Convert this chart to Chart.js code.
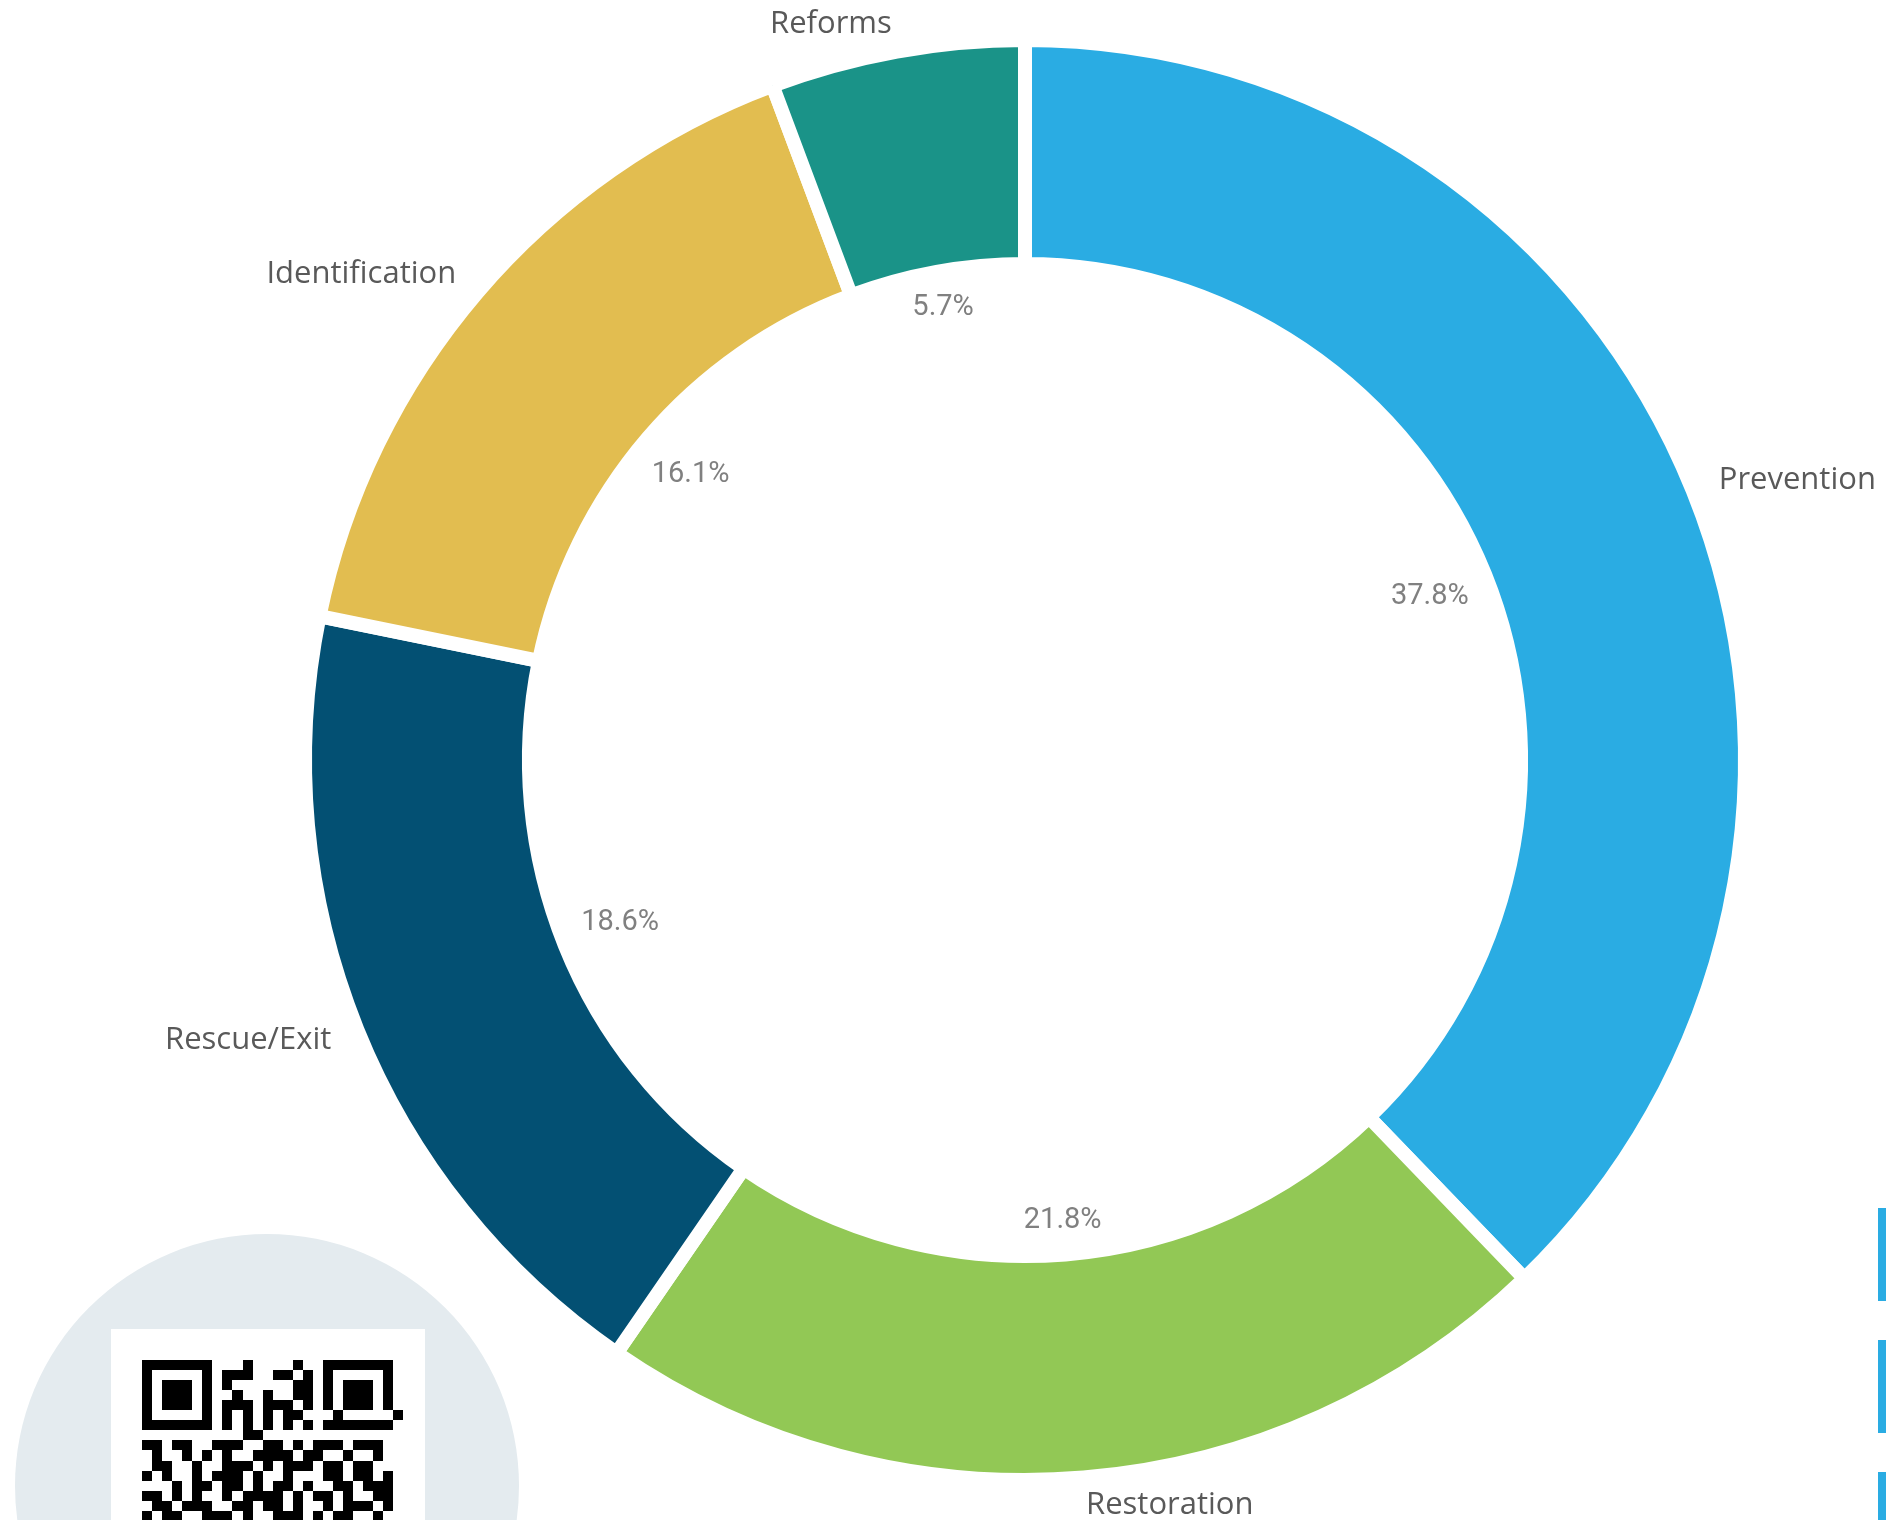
<!DOCTYPE html>
<html>
<head>
<meta charset="utf-8">
<script src="https://cdn.jsdelivr.net/npm/chart.js@4.4.1/dist/chart.umd.min.js"></script>
<style>
  body { margin: 0; background: #fff; }
  canvas { display: block; }
</style>
</head>
<body>
<canvas id="donut" width="1886" height="1520"></canvas>
<script>
const categories = ['Prevention', 'Restoration', 'Rescue/Exit', 'Identification', 'Reforms'];
const shares = [37.8, 21.8, 18.6, 16.1, 5.7];
const sliceColors = ['#2AACE3', '#92C855', '#035073', '#E2BD50', '#1A9388'];

// the qr badge in the bottom-left corner (decoration, first 17 rows visible)
const qrRows = [
  '1111111' + '0001' + '0000' + '1' + '00' + '1111111',
  '1000001' + '0' + '111' + '00' + '11' + '0' + '1' + '0' + '1000001',
  '1011101' + '0' + '1' + '000' + '000' + '11' + '0' + '1011101',
  '1011101' + '0' + '0' + '1' + '0' + '0' + '1' + '00' + '11' + '0' + '1011101',
  '1011101' + '0' + '111' + '0' + '111' + '0' + '1' + '0' + '1011101',
  '1000001' + '0' + '10101011' + '00' + '0' + '1000001',
  '1111111' + '0' + '101010101' + '0' + '1111111',
  '00000000' + '001100000' + '0' + '0000000',
  '1101100111001101011101110',
  '0100101010011110110010010',
  '0110010011101011101101100',
  '1010010111010010001101101',
  '0001011011010110100110111',
  '1101010010111101011010011',
  '0110111001101101001011101',
  '1011001110100111010110010',
  '0110100101011001101001101',
];

const sliceLabels = {
  id: 'sliceLabels',
  afterDatasetsDraw(chart) {
    const ctx = chart.ctx;
    const meta = chart.getDatasetMeta(0);
    ctx.save();
    ctx.textBaseline = 'middle';
    meta.data.forEach((arc, i) => {
      const p = arc.getProps(['x', 'y', 'startAngle', 'endAngle', 'outerRadius', 'innerRadius'], true);
      const mid = (p.startAngle + p.endAngle) / 2;
      const cos = Math.cos(mid), sin = Math.sin(mid);

      // category name outside the ring
      ctx.font = '31px "Open Sans"';
      ctx.fillStyle = '#595959';
      ctx.textAlign = cos >= 0 ? 'left' : 'right';
      const ro = p.outerRadius + 28;
      ctx.fillText(categories[i], p.x + cos * ro, p.y + sin * ro);

      // percentage just inside the hole
      const txt = shares[i].toFixed(1) + '%';
      ctx.font = '29px Roboto';
      ctx.fillStyle = '#808080';
      ctx.textAlign = 'center';
      const w = ctx.measureText(txt).width;
      const proj = (w / 2) * Math.abs(cos) + 12 * Math.abs(sin);
      const ri = p.innerRadius - 19 - proj;
      ctx.fillText(txt, p.x + cos * ri, p.y + sin * ri);
    });
    ctx.restore();
  },
  afterDraw(chart) {
    const ctx = chart.ctx;
    ctx.save();
    // grey disc with the qr code
    ctx.fillStyle = '#E4EBEF';
    ctx.beginPath();
    ctx.arc(267, 1486, 252, 0, Math.PI * 2);
    ctx.fill();
    ctx.fillStyle = '#fff';
    ctx.fillRect(111, 1329, 314, 200);
    ctx.fillStyle = '#000';
    const cell = 10.05;
    qrRows.forEach((row, r) => {
      const y0 = Math.round(1360 + r * cell), y1 = Math.round(1360 + (r + 1) * cell);
      for (let c = 0; c < row.length; c++) {
        if (row[c] !== '1') continue;
        const x0 = Math.round(142 + c * cell), x1 = Math.round(142 + (c + 1) * cell);
        ctx.fillRect(x0, y0, x1 - x0, y1 - y0);
      }
    });
    // blue tabs clipped at the right edge
    ctx.fillStyle = '#2AACE3';
    ctx.fillRect(1878, 1208, 8, 93);
    ctx.fillRect(1878, 1340, 8, 93);
    ctx.fillRect(1878, 1472, 8, 48);
    ctx.restore();
  }
};

new Chart(document.getElementById('donut').getContext('2d'), {
  type: 'doughnut',
  data: {
    labels: categories,
    datasets: [
      {
        data: shares,
        backgroundColor: sliceColors,
        borderColor: '#ffffff',
        borderWidth: 14,
        borderJoinStyle: 'miter',
      },
    ],
  },
  options: {
    responsive: false,
    animation: false,
    events: [],
    radius: 720,
    cutout: '68.9%',
    layout: { padding: { left: 164 } },
    plugins: {
      legend: { display: false },
      tooltip: { enabled: false },
    },
  },
  plugins: [sliceLabels],
});
</script>
</body>
</html>
